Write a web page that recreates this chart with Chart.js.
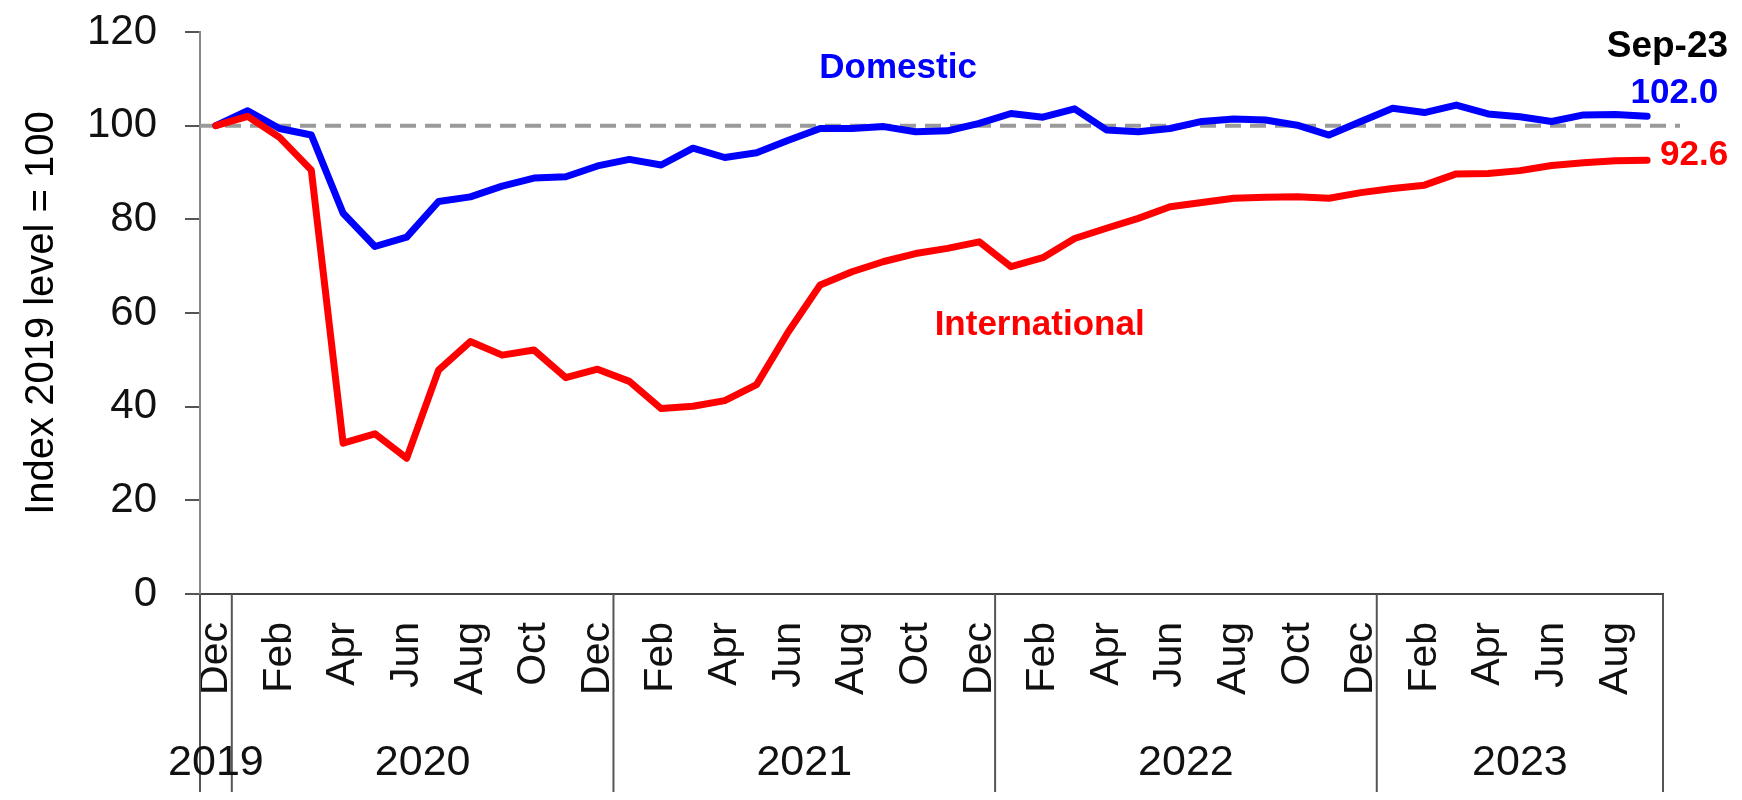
<!DOCTYPE html>
<html>
<head>
<meta charset="utf-8">
<title>Domestic vs International index</title>
<script src="https://cdn.jsdelivr.net/npm/chart.js@4.4.1/dist/chart.umd.min.js"></script>
<style>
  html, body { margin: 0; padding: 0; background: #fff; }
  #wrap { position: relative; width: 1742px; height: 800px; }
</style>
</head>
<body>
<div id="wrap"><canvas id="chart"></canvas></div>
<script>
// Monthly, Dec 2019 .. Sep 2023
const months = [
  'Dec',
  'Jan', 'Feb', 'Mar', 'Apr', 'May', 'Jun', 'Jul', 'Aug', 'Sep', 'Oct', 'Nov', 'Dec',
  'Jan', 'Feb', 'Mar', 'Apr', 'May', 'Jun', 'Jul', 'Aug', 'Sep', 'Oct', 'Nov', 'Dec',
  'Jan', 'Feb', 'Mar', 'Apr', 'May', 'Jun', 'Jul', 'Aug', 'Sep', 'Oct', 'Nov', 'Dec',
  'Jan', 'Feb', 'Mar', 'Apr', 'May', 'Jun', 'Jul', 'Aug', 'Sep'
];
const years = ['2019', '2020', '2021', '2022', '2023'];
const yearStart = [0, 1, 13, 25, 37]; // index of first month of each year

const domestic = [
  100.0,
  103.2, 99.4, 98.0, 81.3, 74.2, 76.2, 83.8, 84.8, 87.1, 88.8, 89.1, 91.4,
  92.8, 91.6, 95.2, 93.2, 94.2, 96.9, 99.4, 99.4, 99.8, 98.7, 98.9, 100.5,
  102.6, 101.8, 103.6, 99.1, 98.7, 99.4, 100.9, 101.4, 101.2, 100.1, 98.0, 100.9,
  103.7, 102.8, 104.4, 102.5, 101.9, 100.9, 102.3, 102.4, 102.0
];
const international = [
  100.0,
  102.0, 97.5, 90.5, 32.2, 34.2, 29.0, 47.8, 53.9, 51.0, 52.1, 46.2, 48.0,
  45.4, 39.6, 40.1, 41.3, 44.7, 56.0, 66.0, 68.8, 71.0, 72.7, 73.8, 75.2,
  69.9, 71.8, 75.9, 78.1, 80.2, 82.7, 83.6, 84.5, 84.7, 84.8, 84.5, 85.7,
  86.6, 87.3, 89.7, 89.8, 90.4, 91.5, 92.1, 92.5, 92.6
];
const baseline = 100;
const yTicks = { min: 0, max: 120, step: 20 };

const FONT = "'Liberation Sans', Arial, Helvetica, sans-serif";
const BLUE = '#0000ff';
const RED = '#ff0000';

const last = months.length - 1;

// dashed 100 line, year row, separators and text labels
const decorations = {
  id: 'decorations',
  beforeDatasetsDraw(chart) {
    const { ctx, chartArea, scales: { y } } = chart;
    const py = y.getPixelForValue(baseline);
    ctx.save();
    ctx.strokeStyle = '#9a9a9a';
    ctx.lineWidth = 4;
    ctx.setLineDash([16, 9]);
    ctx.beginPath();
    ctx.moveTo(chartArea.left, py);
    ctx.lineTo(chartArea.right + 17, py);
    ctx.stroke();
    ctx.restore();
  },
  afterDraw(chart) {
    const { ctx, scales: { x, y } } = chart;
    const step = x.getPixelForValue(1) - x.getPixelForValue(0);
    const edge = i => i > last ? x.getPixelForValue(last) + step / 2 : x.getPixelForValue(i) - step / 2;
    const bounds = yearStart.concat([last + 1]);

    ctx.save();
    // year separators below the axis
    ctx.strokeStyle = '#555';
    ctx.lineWidth = 2;
    bounds.forEach(b => {
      const px = edge(b);
      ctx.beginPath();
      ctx.moveTo(px, x.top);
      ctx.lineTo(px, chart.height - 8);
      ctx.stroke();
    });

    // year labels
    ctx.fillStyle = '#111';
    ctx.font = `43px ${FONT}`;
    ctx.textAlign = 'center';
    ctx.textBaseline = 'alphabetic';
    years.forEach((yr, k) => {
      const cx = (edge(bounds[k]) + edge(bounds[k + 1])) / 2;
      ctx.fillText(yr, cx, chart.height - 25);
    });

    // series names
    ctx.font = `bold 35px ${FONT}`;
    ctx.fillStyle = BLUE;
    ctx.fillText('Domestic', x.getPixelForValue(21.45), y.getPixelForValue(110.2));
    ctx.fillStyle = RED;
    ctx.fillText('International', x.getPixelForValue(25.9), y.getPixelForValue(55.3));

    // latest values
    const lx = x.getPixelForValue(last);
    ctx.textAlign = 'right';
    ctx.fillStyle = BLUE;
    ctx.fillText(domestic[last].toFixed(1), lx + 71, y.getPixelForValue(domestic[last]) - 13);
    ctx.textAlign = 'left';
    ctx.fillStyle = RED;
    ctx.fillText(international[last].toFixed(1), lx + 13, y.getPixelForValue(international[last]) + 5);

    ctx.textAlign = 'right';
    ctx.fillStyle = '#000';
    ctx.font = `bold 37px ${FONT}`;
    ctx.fillText(months[last] + '-' + years[years.length - 1].slice(2), lx + 81, y.getPixelForValue(114.7));
    ctx.restore();
  }
};

new Chart(document.getElementById('chart'), {
  type: 'line',
  data: {
    labels: months,
    datasets: [
      {
        label: 'Domestic',
        data: domestic,
        borderColor: BLUE,
        borderWidth: 7,
        pointRadius: 0,
        tension: 0,
        borderJoinStyle: 'round',
        borderCapStyle: 'round',
        order: 2
      },
      {
        label: 'International',
        data: international,
        borderColor: RED,
        borderWidth: 7,
        pointRadius: 0,
        tension: 0,
        borderJoinStyle: 'round',
        borderCapStyle: 'round',
        order: 1
      }
    ]
  },
  options: {
    responsive: true,
    maintainAspectRatio: false,
    animation: false,
    layout: { padding: { top: 32, right: 79, left: 0, bottom: 0 } },
    plugins: {
      legend: { display: false },
      tooltip: { enabled: false }
    },
    scales: {
      x: {
        type: 'category',
        offset: true,
        grid: { display: false, drawTicks: false, tickLength: 0 },
        border: { display: true, color: '#444', width: 2 },
        ticks: {
          autoSkip: false,
          minRotation: 90,
          maxRotation: 90,
          padding: 28,
          color: '#111',
          font: { family: FONT, size: 41 },
          callback: (v, i) => (i % 2 === 0 ? months[i] : '')
        },
        afterFit: s => { s.height = 206; }
      },
      y: {
        min: yTicks.min,
        max: yTicks.max,
        grid: { drawOnChartArea: false, color: '#555', lineWidth: 2, tickLength: 15 },
        border: { display: true, color: '#888', width: 2 },
        ticks: {
          stepSize: yTicks.step,
          padding: 28,
          color: '#111',
          font: { family: FONT, size: 42 }
        },
        title: {
          display: true,
          text: 'Index 2019 level = 100',
          color: '#000',
          font: { family: FONT, size: 40 },
          padding: { top: 18, bottom: 0 }
        },
        afterFit: s => {
          s.width = 200;
          // keep the plot top at the layout padding, not the label overflow
          s.paddingTop = 0;
          s.paddingBottom = 0;
        }
      }
    }
  },
  plugins: [decorations]
});
</script>
</body>
</html>
